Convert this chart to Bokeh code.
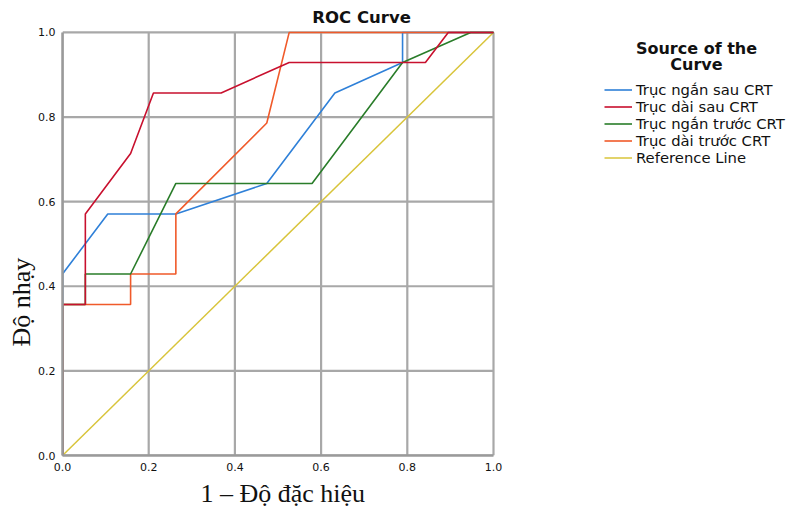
from math import pi
from bokeh.plotting import figure
from bokeh.models import Label, Legend, LegendItem, FixedTicker, Title
from bokeh.embed import file_html
from bokeh.resources import INLINE

# ---- data ----
tick_values = [0.0, 0.2, 0.4, 0.6, 0.8, 1.0]
tick_labels = ["0.0", "0.2", "0.4", "0.6", "0.8", "1.0"]

series_names = ["Trục ngắn sau CRT", "Trục dài sau CRT", "Trục ngắn trước CRT",
                "Trục dài trước CRT", "Reference Line"]

short_after_x = [0.0, 0.0, 0.105, 0.263, 0.474, 0.632, 0.789, 0.789, 1.0]
short_after_y = [0.0, 0.429, 0.571, 0.571, 0.643, 0.857, 0.929, 1.0, 1.0]

long_after_x = [0.0, 0.0, 0.053, 0.053, 0.158, 0.211, 0.368, 0.526, 0.842, 0.895, 1.0]
long_after_y = [0.0, 0.357, 0.357, 0.571, 0.714, 0.857, 0.857, 0.929, 0.929, 1.0, 1.0]

short_before_x = [0.0, 0.0, 0.053, 0.053, 0.158, 0.263, 0.579, 0.789, 0.947, 1.0]
short_before_y = [0.0, 0.357, 0.357, 0.429, 0.429, 0.643, 0.643, 0.929, 1.0, 1.0]

long_before_x = [0.0, 0.0, 0.158, 0.158, 0.263, 0.263, 0.474, 0.526, 1.0]
long_before_y = [0.0, 0.357, 0.357, 0.429, 0.429, 0.571, 0.786, 1.0, 1.0]

reference_x = [0.0, 1.0]
reference_y = [0.0, 1.0]

colors = ["#2f80d8", "#c8102e", "#2a7d2a", "#f05a2a", "#d8c43a"]

# ---- figure ----
W, H = 788, 511
LEFT, BOTTOM = 62, 55
x_end = (W - LEFT) / 431.0
y_end = (H - BOTTOM) / 424.0

p = figure(width=W, height=H, x_range=(0, x_end), y_range=(0, y_end),
           output_backend="svg", toolbar_location=None, title=None,
           min_border_left=LEFT, min_border_right=0,
           min_border_top=0, min_border_bottom=BOTTOM)
p.background_fill_color = "white"
p.border_fill_color = "white"
p.outline_line_color = None
p.grid.visible = False

for ax in (p.xaxis[0], p.yaxis[0]):
    ax.ticker = FixedTicker(ticks=tick_values)
    ax.bounds = (0, 1)
    ax.major_label_overrides = {v: s for v, s in zip(tick_values, tick_labels)}
    ax.major_tick_in = 0
    ax.major_tick_out = 0
    ax.minor_tick_in = 0
    ax.minor_tick_out = 0
    ax.axis_line_color = "#9a9a9a"
    ax.axis_line_width = 2.5
    ax.major_label_text_font = "DejaVu Sans"
    ax.major_label_text_font_size = "11px"
    ax.major_label_text_color = "#111111"
p.xaxis.major_label_standoff = 7
p.yaxis.major_label_standoff = 7

# grid lines at the tick positions, limited to the unit square
n = len(tick_values)
p.segment(x0=tick_values, y0=[0.0] * n, x1=tick_values, y1=[1.0] * n,
          line_color="#a8a8a8", line_width=2.2)
p.segment(x0=[0.0] * n, y0=tick_values, x1=[1.0] * n, y1=tick_values,
          line_color="#a8a8a8", line_width=2.2)

r_ref = p.line(reference_x, reference_y, line_color=colors[4], line_width=1.5)
r_sa = p.line(short_after_x, short_after_y, line_color=colors[0], line_width=1.6)
r_lb = p.line(long_before_x, long_before_y, line_color=colors[3], line_width=1.6)
r_sb = p.line(short_before_x, short_before_y, line_color=colors[2], line_width=1.6)
r_la = p.line(long_after_x, long_after_y, line_color=colors[1], line_width=1.6)

legend = Legend(items=[
    LegendItem(label=series_names[0], renderers=[r_sa]),
    LegendItem(label=series_names[1], renderers=[r_la]),
    LegendItem(label=series_names[2], renderers=[r_sb]),
    LegendItem(label=series_names[3], renderers=[r_lb]),
    LegendItem(label=series_names[4], renderers=[r_ref]),
], location=(542, 289), orientation="vertical")
legend.border_line_color = None
legend.background_fill_alpha = 0
legend.padding = 0
legend.margin = 0
legend.spacing = 0
legend.glyph_width = 28
legend.glyph_height = 15
legend.label_height = 15
legend.label_standoff = 4
legend.label_text_font = "DejaVu Sans"
legend.label_text_font_size = "14.8px"
legend.label_text_color = "#111111"
legend.label_text_baseline = "middle"
p.add_layout(legend, "center")

# chart title and legend title (inside the frame area)
p.add_layout(Label(x=0.694, y=1.035, text="ROC Curve", text_align="center",
                   text_baseline="alphabetic", text_font="DejaVu Sans",
                   text_font_style="bold", text_font_size="16.5px",
                   text_color="#111111"))
p.add_layout(Label(x=1.471, y=0.962, text="Source of the", text_align="center",
                   text_baseline="alphabetic", text_font="DejaVu Sans",
                   text_font_style="bold", text_font_size="16px",
                   text_color="#111111"))
p.add_layout(Label(x=1.471, y=0.924, text="Curve", text_align="center",
                   text_baseline="alphabetic", text_font="DejaVu Sans",
                   text_font_style="bold", text_font_size="16px",
                   text_color="#111111"))

# axis titles
p.add_layout(Title(text="1 – Độ đặc hiệu", align="left", offset=138, standoff=7,
                   text_font="Liberation Serif", text_font_size="26px",
                   text_font_style="normal", text_color="#111111"), "below")
p.add_layout(Title(text="Độ nhạy", align="left", offset=109, standoff=0,
                   text_font="Liberation Serif", text_font_size="26px",
                   text_font_style="normal", text_color="#111111"), "left")

open("out.html", "w").write(file_html(p, INLINE))
